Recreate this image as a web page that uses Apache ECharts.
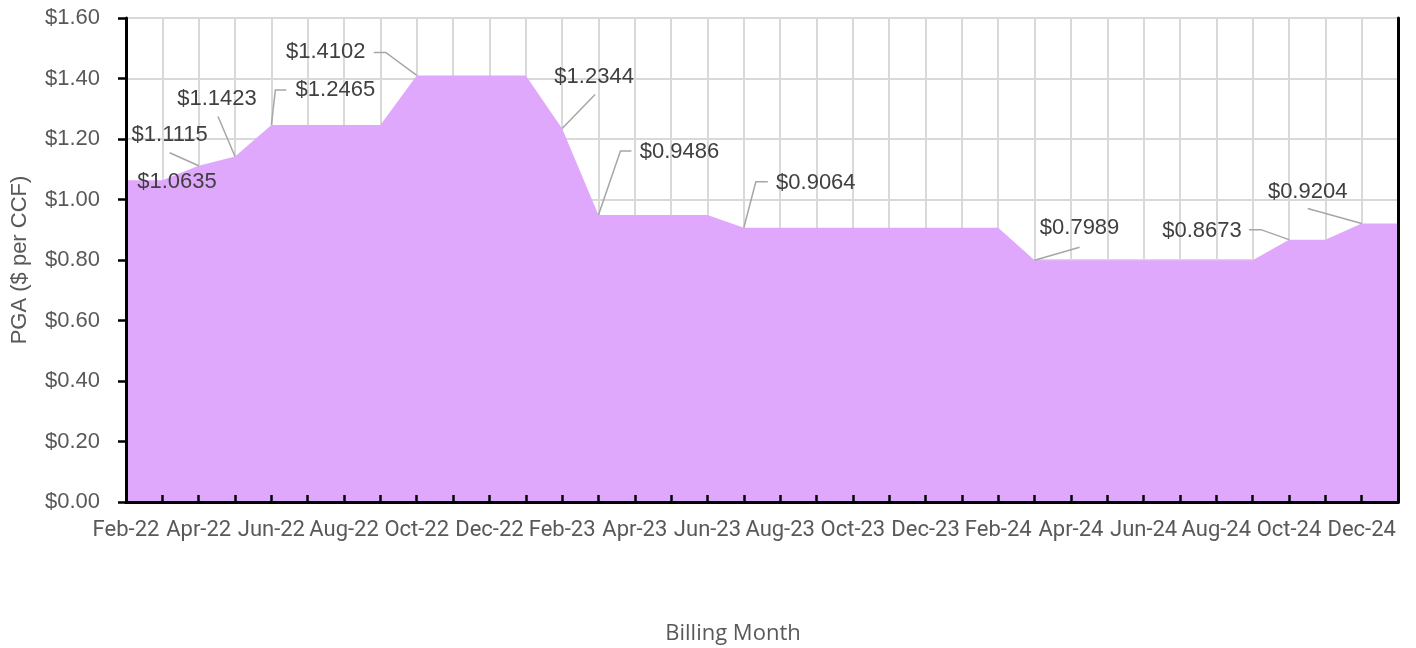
<!DOCTYPE html>
<html>
<head>
<meta charset="utf-8">
<script src="https://cdn.jsdelivr.net/npm/echarts@6/dist/echarts.min.js"></script>
<style>
  html, body { margin: 0; padding: 0; background: #fff; }
  #chart { width: 1416px; height: 648px; }
</style>
</head>
<body>
<div id="chart"></div>
<script>
var months = [
  'Feb-22', 'Mar-22', 'Apr-22', 'May-22', 'Jun-22', 'Jul-22', 'Aug-22', 'Sep-22', 'Oct-22', 'Nov-22', 'Dec-22',
  'Jan-23', 'Feb-23', 'Mar-23', 'Apr-23', 'May-23', 'Jun-23', 'Jul-23', 'Aug-23', 'Sep-23', 'Oct-23', 'Nov-23', 'Dec-23',
  'Jan-24', 'Feb-24', 'Mar-24', 'Apr-24', 'May-24', 'Jun-24', 'Jul-24', 'Aug-24', 'Sep-24', 'Oct-24', 'Nov-24', 'Dec-24',
  'Jan-25'
]
var pga = [
  1.0635, 1.0635, 1.1115, 1.1423, 1.2465, 1.2465, 1.2465, 1.2465, 1.4102, 1.4102, 1.4102,
  1.4102, 1.2344, 0.9486, 0.9486, 0.9486, 0.9486, 0.9064, 0.9064, 0.9064, 0.9064, 0.9064, 0.9064,
  0.9064, 0.9064, 0.7989, 0.7989, 0.7989, 0.7989, 0.7989, 0.7989, 0.7989, 0.8673, 0.8673, 0.9204,
  0.9204
]
var yMin = 0
var yMax = 1.6
var yStep = 0.2

// where the data labels sit, relative to their point (px)
var labelOffsets = {
  'Feb-22': [51, 2], 'Apr-22': [-29, -31], 'May-22': [-18, -58], 'Jun-22': [64, -35],
  'Oct-22': [-91, -23], 'Feb-23': [32, -52], 'Mar-23': [81, -63], 'Jul-23': [72, -45],
  'Mar-24': [45, -32], 'Oct-24': [-87, -9], 'Dec-24': [-54, -32]
}
// leader lines, relative to the point (px)
var leaders = {
  'Apr-22': [[-29, -13], [0, 0]],
  'May-22': [[-17, -40], [0, 0]],
  'Jun-22': [[15, -35], [4, -35], [0, 0]],
  'Oct-22': [[-43, -23], [-31, -23], [0, 0]],
  'Feb-23': [[33, -34], [0, 0]],
  'Mar-23': [[33, -64], [22, -64], [0, 0]],
  'Jul-23': [[24, -46], [12, -46], [0, 0]],
  'Mar-24': [[45, -13], [0, 0]],
  'Oct-24': [[-40, -10], [-28, -10], [0, 0]],
  'Dec-24': [[-54, -15], [0, 0]]
}

// a label goes on every month where the rate changed
var labelPoints = []
pga.forEach(function (v, i) {
  if (i === 0 || v !== pga[i - 1]) labelPoints.push([i, v])
})

var sansFont = "'Liberation Sans', Arial, sans-serif"
var tickFont = "Roboto, sans-serif"

var chart = echarts.init(document.getElementById('chart'))

chart.setOption({
  animation: false,
  grid: { left: 126, right: 18, top: 18, bottom: 146, outerBoundsMode: 'none' },
  xAxis: [
    {
      type: 'category',
      data: months,
      boundaryGap: false,
      position: 'bottom',
      z: 10,
      axisLine: { lineStyle: { color: '#000', width: 3 } },
      axisTick: { inside: true, length: 7, interval: 0, lineStyle: { color: '#000', width: 2.5 } },
      axisLabel: { interval: 1, margin: 17, hideOverlap: false, color: '#595959', fontFamily: tickFont, fontSize: 22 },
      splitLine: { show: false },
      name: 'Billing Month',
      nameLocation: 'middle',
      nameGap: 121,
      nameTextStyle: { color: '#595959', fontFamily: "'Open Sans', sans-serif", fontSize: 22, padding: [0, 58, 0, 0] }
    },
    {
      type: 'category',
      data: months,
      boundaryGap: false,
      position: 'top',
      z: 0,
      axisLine: { lineStyle: { color: '#000', width: 3 } },
      axisTick: { show: false },
      axisLabel: { show: false },
      splitLine: { show: true, interval: 0, lineStyle: { color: '#d9d9d9', width: 2 } }
    }
  ],
  yAxis: [
    {
      type: 'value',
      min: yMin, max: yMax, interval: yStep,
      position: 'left',
      z: 10,
      axisLine: { show: true, lineStyle: { color: '#000', width: 3 } },
      axisTick: { show: true, length: 8, lineStyle: { color: '#000', width: 2.5 } },
      axisLabel: {
        margin: 26, color: '#595959', fontFamily: sansFont, fontSize: 22,
        formatter: function (v) { return '$' + v.toFixed(2) }
      },
      splitLine: { show: false },
      name: 'PGA ($ per CCF)',
      nameLocation: 'middle',
      nameRotate: 90,
      nameGap: 95,
      nameTextStyle: { color: '#595959', fontFamily: sansFont, fontSize: 22 }
    },
    {
      type: 'value',
      min: yMin, max: yMax, interval: yStep,
      position: 'right',
      z: 10,
      axisLine: { show: true, lineStyle: { color: '#000', width: 3 } },
      axisTick: { show: false },
      axisLabel: { show: false },
      splitLine: { show: false }
    },
    {
      type: 'value',
      min: yMin, max: yMax, interval: yStep,
      position: 'left',
      z: 0,
      axisLine: { show: false },
      axisTick: { show: false },
      axisLabel: { show: false },
      splitLine: { show: true, lineStyle: { color: '#d9d9d9', width: 2 } }
    }
  ],
  series: [
    {
      type: 'line',
      data: pga,
      xAxisIndex: 0,
      yAxisIndex: 0,
      symbol: 'none',
      lineStyle: { width: 0 },
      areaStyle: { color: '#e0a8fc', opacity: 1 }
    },
    {
      type: 'custom',
      xAxisIndex: 0,
      yAxisIndex: 0,
      data: labelPoints,
      z: 5,
      renderItem: function (params, api) {
        var i = api.value(0)
        var v = api.value(1)
        var p = api.coord([i, v])
        var key = months[i]
        var off = labelOffsets[key] || [0, -20]
        var children = []
        var path = leaders[key]
        if (path) {
          children.push({
            type: 'polyline',
            shape: { points: path.map(function (d) { return [p[0] + d[0], p[1] + d[1]] }) },
            style: { stroke: '#a6a6a6', lineWidth: 1.5, fill: null }
          })
        }
        children.push({
          type: 'text',
          x: p[0] + off[0],
          y: p[1] + off[1],
          style: {
            text: '$' + v.toFixed(4),
            fill: '#404040',
            font: '22px ' + sansFont,
            align: 'center',
            verticalAlign: 'middle'
          }
        })
        return { type: 'group', children: children }
      }
    }
  ]
})
</script>
</body>
</html>
